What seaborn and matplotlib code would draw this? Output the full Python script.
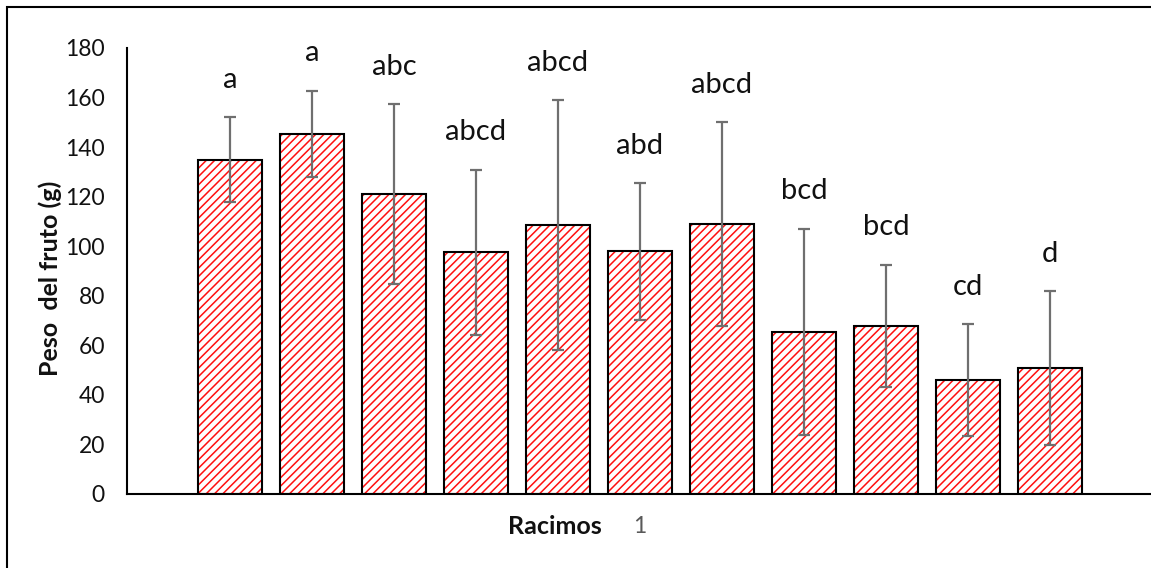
import matplotlib
matplotlib.use("Agg")
import matplotlib.pyplot as plt
import seaborn as sns
import pandas as pd
from matplotlib.patches import Rectangle

# Fruit weight per cluster: mean, standard deviation and significance letters
racimos = ["R1", "R2", "R3", "R4", "R5", "R6", "R7", "R8", "R9", "R10", "R11"]
peso_medio = [135.0, 145.3, 121.0, 97.5, 108.5, 98.0, 109.0, 65.4, 67.8, 46.0, 50.8]
desv_est = [17.0, 17.5, 36.3, 33.4, 50.5, 27.6, 41.1, 41.7, 24.8, 22.5, 31.2]
letras = ["a", "a", "abc", "abcd", "abcd", "abd", "abcd", "bcd", "bcd", "cd", "d"]
y_ticks = [0, 20, 40, 60, 80, 100, 120, 140, 160, 180]

sns.set_theme(style="white")
plt.rcParams["font.family"] = ["Lato", "DejaVu Sans"]
plt.rcParams["hatch.linewidth"] = 1.1

df = pd.DataFrame({"racimo": racimos, "peso": peso_medio})

W, H = 1151, 568
fig = plt.figure(figsize=(W / 100, H / 100), dpi=100)
ax = fig.add_axes([127 / W, 74 / H, (1153 - 127) / W, 446 / H])

# hatched fill layer, then black outline layer
sns.barplot(data=df, x="racimo", y="peso", order=racimos, width=0.79,
            color="white", errorbar=None, ax=ax)
sns.barplot(data=df, x="racimo", y="peso", order=racimos, width=0.79,
            color="white", errorbar=None, ax=ax)
n = len(racimos)
for p in ax.patches[:n]:
    p.set_facecolor("white")
    p.set_edgecolor("#ff1010")
    p.set_hatch("////")
    p.set_linewidth(0)
for p in ax.patches[n:2 * n]:
    p.set_facecolor("none")
    p.set_edgecolor("black")
    p.set_linewidth(1.5)

xs = [p.get_x() + p.get_width() / 2 for p in ax.patches[:n]]
ax.errorbar(xs, peso_medio, yerr=desv_est, fmt="none", ecolor="#6f6f6f",
            elinewidth=1.6, capsize=4, capthick=1.6, zorder=5)

for x, m, s, t in zip(xs, peso_medio, desv_est, letras):
    ax.text(x, m + s + 15, t, ha="center", va="center", fontsize=21,
            color="#111111")

ax.set_ylim(0, 180)
ax.set_xlim(-1.256, 11.256)
ax.set_yticks(y_ticks)
ax.set_yticklabels([str(v) for v in y_ticks], fontsize=16.5, color="#111111")
ax.tick_params(axis="y", length=0, pad=16)
ax.set_xticks([5])
ax.set_xticklabels(["1"], fontsize=16.5, color="#595959")
ax.tick_params(axis="x", length=0, pad=16)
ax.set_xlabel("")
ax.set_ylabel("")
for side in ["top", "right"]:
    ax.spines[side].set_visible(False)
for side in ["left", "bottom"]:
    ax.spines[side].set_color("black")
    ax.spines[side].set_linewidth(1.5)

fig.text(555 / W, 1 - 526 / H, "Racimos", ha="center", va="center",
         fontsize=18, fontweight="bold", color="#111111")
fig.text(50 / W, 1 - 278 / H, "Peso  del fruto (g)", ha="center", va="center",
         rotation=90, fontsize=18, fontweight="bold", color="#111111")

# chart frame
fig.patches.append(Rectangle((7 / W, -0.2), 1.5, 1.2 - 7 / H,
                             transform=fig.transFigure, fill=False,
                             edgecolor="black", linewidth=1.5))

fig.savefig("out.png", dpi=100, facecolor="white")
